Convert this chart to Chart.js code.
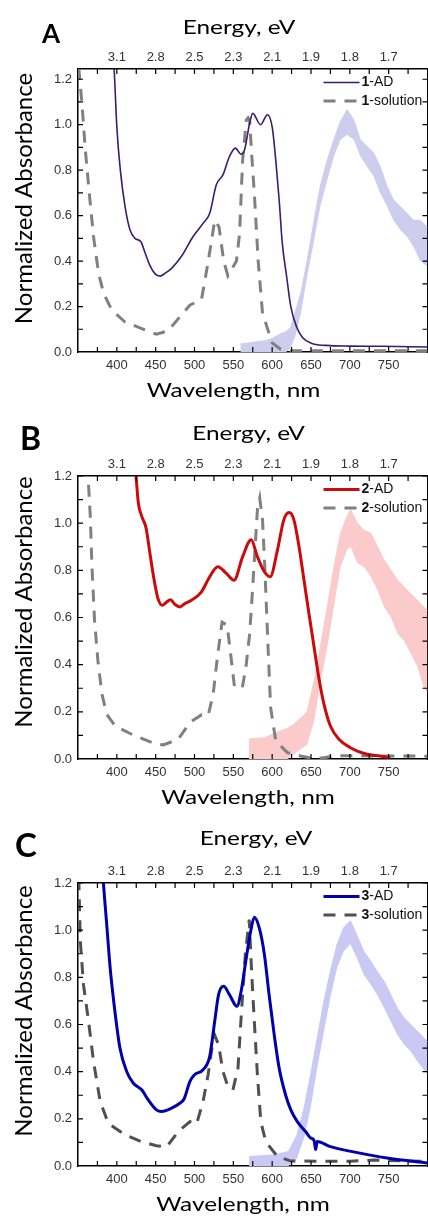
<!DOCTYPE html>
<html>
<head>
<meta charset="utf-8">
<script src="https://cdn.jsdelivr.net/npm/chart.js@4.4.1/dist/chart.umd.min.js"></script>
<style>
html, body { margin: 0; padding: 0; background: #fff; width: 428px; height: 1216px; overflow: hidden; }
.panel { position: absolute; left: 0; width: 445px; height: 407px; }
</style>
</head>
<body>
<div class="panel" style="top:0"><canvas id="chartA" width="445" height="407"></canvas></div>
<div class="panel" style="top:407px"><canvas id="chartB" width="445" height="407"></canvas></div>
<div class="panel" style="top:814px"><canvas id="chartC" width="445" height="407"></canvas></div>
<script>
// axis labels
var wlTicks = [400, 450, 500, 550, 600, 650, 700, 750];
var eVLabels = ['3.1', '2.8', '2.5', '2.3', '2.1', '1.9', '1.8', '1.7'];
var absTicks = [0, 0.2, 0.4, 0.6, 0.8, 1.0, 1.2];
var xTitle = 'Wavelength, nm';
var x2Title = 'Energy, eV';
var yTitle = 'Normalized Absorbance';

// panel A
var wlA_AD = [390, 396.5, 400, 404.5, 410.6, 417, 423.5, 431, 436, 442.7, 449, 455.5, 462, 470.5, 483, 498, 511, 519.6, 528, 536.7, 545, 552.6, 560, 564.5, 571, 575, 585, 594, 600, 604.6, 609, 613, 618.7, 624, 631.5, 639, 649.5, 675, 700, 740, 800];
var absA_AD = [1.50, 1.245, 0.99, 0.80, 0.64, 0.537, 0.50, 0.485, 0.44, 0.38, 0.345, 0.334, 0.346, 0.368, 0.42, 0.507, 0.566, 0.61, 0.735, 0.78, 0.86, 0.897, 0.87, 0.89, 1.007, 1.05, 1.0, 1.044, 0.99, 0.845, 0.67, 0.48, 0.33, 0.2, 0.11, 0.064, 0.04, 0.028, 0.026, 0.025, 0.022];
var wlA_sol = [351, 355, 359.4, 364.5, 370, 376.5, 383, 393.6, 410.6, 432, 451, 466, 481, 494, 509, 515, 522, 526, 531.6, 537.6, 543, 554, 558, 562, 566.7, 569, 571, 573.5, 577, 582, 587.6, 600, 611, 625, 700, 800];
var absA_sol = [1.25, 1.097, 0.89, 0.70, 0.507, 0.346, 0.258, 0.184, 0.132, 0.103, 0.078, 0.093, 0.154, 0.206, 0.231, 0.346, 0.49, 0.58, 0.55, 0.40, 0.335, 0.40, 0.52, 0.845, 1.02, 1.03, 1.02, 0.875, 0.70, 0.40, 0.17, 0.04, 0.012, 0.005, 0.005, 0.005];
var wlA_PL = [559, 570, 580, 592, 600, 611, 618, 624, 630, 637, 645, 654, 662, 671, 679.5, 688, 696.5, 705, 713.6, 722, 730.8, 739, 748, 756, 765, 773.5, 782, 790.5, 800];
var hiA_PL = [0.035, 0.04, 0.045, 0.05, 0.06, 0.08, 0.09, 0.11, 0.18, 0.26, 0.40, 0.58, 0.73, 0.845, 0.934, 1.015, 1.066, 1.022, 0.934, 0.905, 0.875, 0.816, 0.728, 0.67, 0.64, 0.61, 0.58, 0.58, 0.55];
var loA_PL = [0, 0, 0, 0, 0, 0, 0, 0.02, 0.07, 0.17, 0.33, 0.49, 0.64, 0.757, 0.86, 0.934, 0.956, 0.934, 0.86, 0.816, 0.772, 0.70, 0.64, 0.58, 0.537, 0.507, 0.463, 0.40, 0.375];

// panel B
var wlB_AD = [420, 424.7, 427.7, 432, 437.6, 442.7, 448, 453, 458.5, 464, 469, 475, 481, 488, 496, 509, 519.6, 530, 541, 550.8, 562, 573, 581, 590, 597.5, 606.8, 615, 621.8, 628, 634.6, 641, 647.4, 654, 660, 666.7, 675, 686, 700.7, 722, 739, 752];
var absB_AD = [1.35, 1.2, 1.085, 1.03, 0.98, 0.87, 0.76, 0.68, 0.652, 0.665, 0.675, 0.655, 0.645, 0.66, 0.673, 0.709, 0.773, 0.815, 0.787, 0.758, 0.858, 0.93, 0.858, 0.794, 0.773, 0.886, 1.014, 1.045, 1.014, 0.90, 0.758, 0.616, 0.474, 0.346, 0.233, 0.14, 0.084, 0.048, 0.02, 0.013, 0.005];
var wlB_sol = [363.6, 365.8, 368, 371.3, 375.6, 380.8, 387, 397.8, 419, 449, 459.7, 479, 494, 509, 517.5, 524, 530, 535.5, 542, 546.5, 551.7, 562, 566.7, 571, 574, 577, 581, 584, 587.6, 590.5, 594, 598, 604.6, 619.6, 636.7, 650, 665, 680, 800];
var absB_sol = [1.163, 1.03, 0.815, 0.588, 0.418, 0.275, 0.19, 0.14, 0.105, 0.065, 0.06, 0.083, 0.155, 0.187, 0.183, 0.275, 0.446, 0.58, 0.567, 0.446, 0.30, 0.31, 0.403, 0.53, 0.68, 0.84, 1.057, 1.106, 1.014, 0.815, 0.53, 0.219, 0.077, 0.027, 0.013, 0.004, 0.004, 0.014, 0.012];
var wlB_PL = [570, 590, 611, 620, 628, 645, 654, 662, 671, 679.5, 688, 696.5, 701, 709.6, 718, 727, 735.6, 744, 753, 761.5, 770, 778.5, 787, 795.5, 800];
var hiB_PL = [0.085, 0.09, 0.12, 0.13, 0.147, 0.2, 0.33, 0.474, 0.645, 0.815, 0.957, 1.03, 1.057, 1.0, 0.97, 0.957, 0.90, 0.844, 0.80, 0.758, 0.73, 0.70, 0.673, 0.645, 0.63];
var loB_PL = [0, 0, 0, 0, 0.02, 0.06, 0.16, 0.318, 0.474, 0.645, 0.815, 0.886, 0.90, 0.83, 0.815, 0.773, 0.716, 0.645, 0.60, 0.53, 0.50, 0.446, 0.39, 0.30, 0.28];

// panel C
var wlC_AD = [378, 382.8, 387, 391.4, 397, 404, 412.8, 421.3, 432, 440.5, 451, 457.7, 470.5, 481, 486.7, 494, 500, 511, 519.6, 526, 531, 537.6, 545, 554.6, 560, 566.7, 572.6, 577, 583.4, 590, 596, 602.6, 609, 617.4, 624, 632.4, 643, 650, 654, 656, 658, 675, 700, 750, 800];
var absC_AD = [1.45, 1.197, 1.024, 0.84, 0.67, 0.50, 0.40, 0.351, 0.323, 0.28, 0.238, 0.231, 0.245, 0.266, 0.285, 0.358, 0.387, 0.408, 0.465, 0.613, 0.727, 0.762, 0.727, 0.677, 0.74, 0.883, 1.0, 1.055, 1.01, 0.897, 0.727, 0.557, 0.415, 0.30, 0.238, 0.188, 0.146, 0.118, 0.108, 0.07, 0.104, 0.082, 0.063, 0.033, 0.013];
var wlC_sol = [351, 353, 357, 363.6, 370, 378.6, 389, 410.6, 432, 451, 464, 479, 494, 502.6, 511, 517.5, 522.5, 526, 531, 536.7, 543, 549.5, 556, 560, 565.4, 570.5, 573.5, 577, 581, 585.4, 591.8, 606.8, 624, 700, 731, 800];
var absC_sol = [1.22, 0.953, 0.77, 0.613, 0.443, 0.273, 0.181, 0.132, 0.103, 0.086, 0.08, 0.146, 0.188, 0.177, 0.273, 0.387, 0.50, 0.555, 0.514, 0.40, 0.337, 0.323, 0.415, 0.628, 0.897, 1.045, 0.826, 0.613, 0.387, 0.188, 0.103, 0.04, 0.021, 0.02, 0.025, 0.02];
var wlC_PL = [570, 602, 621, 632, 641, 649.5, 658, 666.7, 675, 683.6, 692, 700.7, 709, 718, 726.7, 735, 744, 752.6, 761, 770, 778.5, 787, 800];
var hiC_PL = [0.04, 0.047, 0.061, 0.132, 0.245, 0.387, 0.543, 0.70, 0.826, 0.94, 1.01, 1.04, 0.98, 0.91, 0.87, 0.826, 0.783, 0.727, 0.67, 0.628, 0.60, 0.571, 0.528];
var loC_PL = [0, 0, 0, 0.033, 0.118, 0.245, 0.415, 0.571, 0.713, 0.84, 0.91, 0.94, 0.883, 0.81, 0.77, 0.727, 0.67, 0.613, 0.557, 0.514, 0.486, 0.443, 0.387];

var markWl = [375, 400, 425, 450, 475, 500, 525, 550, 575, 600, 625, 650, 675, 700, 725, 750, 775];
var markAbs = [0.1, 0.2, 0.3, 0.4, 0.5, 0.6, 0.7, 0.8, 0.9, 1.0, 1.1, 1.2];

function xy(xs, ys) {
    return xs.map(function (x, i) { return {x: x, y: ys[i]}; });
}

var tickFont = {family: 'Liberation Sans', size: 13};

// inward ticks, legend, axis titles and panel letter
var panelDecor = {
    id: 'panelDecor',
    afterDraw: function (chart, args, opts) {
        var ctx = chart.ctx, a = chart.chartArea, sx = chart.scales.x, sy = chart.scales.y;
        ctx.save();
        ctx.strokeStyle = '#000';
        ctx.lineWidth = 1.2;
        ctx.beginPath();
        markWl.forEach(function (v) {
            var px = sx.getPixelForValue(v);
            ctx.moveTo(px, a.bottom); ctx.lineTo(px, a.bottom - 5);
            ctx.moveTo(px, a.top); ctx.lineTo(px, a.top + 5);
        });
        markAbs.forEach(function (v) {
            var py = sy.getPixelForValue(v);
            ctx.moveTo(a.left, py); ctx.lineTo(a.left + 5, py);
            ctx.moveTo(a.right, py); ctx.lineTo(a.right - 5, py);
        });
        ctx.stroke();

        chart.data.datasets.slice(0, 2).forEach(function (ds, i) {
            var y = a.top + 13.5 + i * 18.5;
            ctx.beginPath();
            ctx.setLineDash(ds.borderDash || []);
            ctx.strokeStyle = ds.borderColor;
            ctx.lineWidth = ds.borderWidth;
            ctx.moveTo(a.right - 104, y);
            ctx.lineTo(a.right - 68, y);
            ctx.stroke();
            ctx.setLineDash([]);
            var k = ds.label.indexOf('-');
            var x = a.right - 66;
            ctx.fillStyle = '#111';
            ctx.textBaseline = 'middle';
            ctx.textAlign = 'left';
            ctx.font = 'bold 14px "Liberation Sans"';
            ctx.fillText(ds.label.slice(0, k), x, y);
            x += ctx.measureText(ds.label.slice(0, k)).width;
            ctx.font = '14px "Liberation Sans"';
            ctx.fillText(ds.label.slice(k), x, y);
        });

        // axis titles (horizontal ones slightly stretched like the source figure)
        ctx.fillStyle = '#000';
        ctx.textBaseline = 'alphabetic';
        ctx.textAlign = 'center';
        ctx.font = '20px Lato';
        ctx.save();
        ctx.translate(opts.ex, opts.ey);
        ctx.scale(1.22, 1);
        ctx.fillText(x2Title, 0, 0);
        ctx.restore();
        ctx.save();
        ctx.translate(opts.wx, opts.wy);
        ctx.scale(1.22, 1);
        ctx.fillText(xTitle, 0, 0);
        ctx.restore();
        ctx.save();
        ctx.font = '24px Lato';
        ctx.translate(31.5, opts.yc);
        ctx.rotate(-Math.PI / 2);
        ctx.fillText(yTitle, 0, 0);
        ctx.restore();

        ctx.textAlign = 'left';
        ctx.font = 'bold ' + opts.size + 'px Lato';
        ctx.fillText(opts.letter, opts.x, opts.y);
        ctx.restore();
    }
};

function makePanel(id, decor, num, yMax, colAD, wAD, colSol, colPL, d) {
    new Chart(document.getElementById(id), {
        type: 'line',
        data: {
            datasets: [{
                label: num + '-AD',
                data: xy(d[0], d[1]),
                borderColor: colAD,
                borderWidth: wAD,
                pointRadius: 0,
                cubicInterpolationMode: 'monotone',
                fill: false
            }, {
                label: num + '-solution',
                data: xy(d[2], d[3]),
                borderColor: colSol,
                borderWidth: 3,
                borderDash: [12, 9],
                pointRadius: 0,
                tension: 0,
                fill: false
            }, {
                label: 'PL low',
                data: xy(d[4], d[6]),
                borderColor: 'rgba(0,0,0,0)',
                pointRadius: 0,
                fill: false
            }, {
                label: 'PL',
                data: xy(d[4], d[5]),
                borderColor: colPL,
                borderWidth: 1,
                backgroundColor: colPL,
                pointRadius: 0,
                fill: '-1'
            }]
        },
        options: {
            responsive: false,
            animation: false,
            layout: {padding: {left: 0, right: 17.5, top: 0, bottom: 0}},
            plugins: {
                legend: {display: false},
                tooltip: {enabled: false},
                panelDecor: decor
            },
            scales: {
                x: {
                    type: 'linear', position: 'bottom', min: 350, max: 800,
                    afterBuildTicks: function (s) { s.ticks = wlTicks.map(function (v) { return {value: v}; }); },
                    afterFit: function (s) { s.height = 55; },
                    ticks: {font: tickFont, color: '#333', padding: 6, autoSkip: false, maxRotation: 0},
                    grid: {display: false, drawTicks: false},
                    border: {color: '#000', width: 1.5}
                },
                x2: {
                    type: 'linear', position: 'top', min: 350, max: 800,
                    afterBuildTicks: function (s) { s.ticks = wlTicks.map(function (v) { return {value: v}; }); },
                    afterFit: function (s) { s.height = 69; },
                    ticks: {font: tickFont, color: '#333', padding: 4, autoSkip: false, maxRotation: 0,
                        callback: function (v, i) { return eVLabels[i]; }},
                    grid: {display: false, drawTicks: false},
                    border: {color: '#000', width: 1.5}
                },
                y: {
                    min: 0, max: yMax,
                    afterBuildTicks: function (s) { s.ticks = absTicks.map(function (v) { return {value: v}; }); },
                    afterFit: function (s) { s.width = 78; },
                    ticks: {font: tickFont, color: '#333', padding: 6,
                        callback: function (v) { return v.toFixed(1); }},
                    grid: {display: false, drawTicks: false},
                    border: {color: '#000', width: 1.5}
                },
                y2: {
                    position: 'right', min: 0, max: yMax,
                    afterFit: function (s) { s.width = 0; },
                    ticks: {display: false},
                    grid: {display: false, drawTicks: false},
                    border: {color: '#000', width: 1.5}
                }
            }
        },
        plugins: [panelDecor]
    });
}

makePanel('chartA', {letter: 'A', size: 26, x: 42, y: 43, ex: 239, ey: 34, wx: 233.5, wy: 396.5, yc: 198.5},
    '1', 1.245, '#3d1a6b', 1.6, '#808080', '#cdcdee',
    [wlA_AD, absA_AD, wlA_sol, absA_sol, wlA_PL, hiA_PL, loA_PL]);
makePanel('chartB', {letter: 'B', size: 32, x: 20, y: 43, ex: 248.5, ey: 32.5, wx: 248, wy: 396.5, yc: 195},
    '2', 1.2, '#cc0a0a', 3, '#808080', '#fbcaca',
    [wlB_AD, absB_AD, wlB_sol, absB_sol, wlB_PL, hiB_PL, loB_PL]);
makePanel('chartC', {letter: 'C', size: 33, x: 15, y: 43, ex: 256, ey: 31, wx: 243, wy: 396.5, yc: 197},
    '3', 1.2, '#0000b0', 3, '#505050', '#c9c9f4',
    [wlC_AD, absC_AD, wlC_sol, absC_sol, wlC_PL, hiC_PL, loC_PL]);
</script>
</body>
</html>
